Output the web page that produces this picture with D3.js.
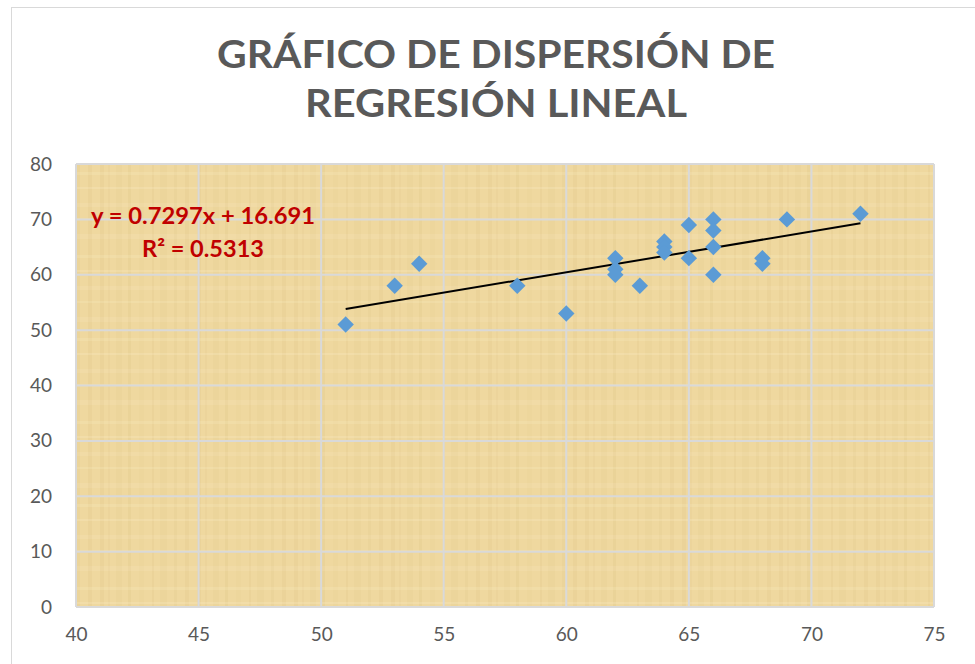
<!DOCTYPE html>
<html>
<head>
<meta charset="utf-8">
<script src="https://cdn.jsdelivr.net/npm/d3@7"></script>
<style>
  html, body { margin: 0; padding: 0; background: #fff; }
  svg { display: block; }
</style>
</head>
<body>
<div id="chart"></div>
<script>
// ---- data ----
const xValues = [51, 53, 54, 58, 60, 62, 62, 62, 63, 64, 64, 64, 65, 65, 66, 66, 66, 66, 68, 68, 69, 72];
const yValues = [51, 58, 62, 58, 53, 63, 61, 60, 58, 66, 65, 64, 69, 63, 70, 68, 65, 60, 63, 62, 70, 71];
const xTicks = [40, 45, 50, 55, 60, 65, 70, 75];
const yTicks = [0, 10, 20, 30, 40, 50, 60, 70, 80];
const titleLines = ['GRÁFICO DE DISPERSIÓN DE', 'REGRESIÓN LINEAL'];
const eqLines = ['y = 0.7297x + 16.691', 'R² = 0.5313'];

const width = 975, height = 664;
const margin = { top: 164, right: 41, bottom: 57, left: 76 };

const svg = d3.select('#chart').append('svg')
  .attr('width', width)
  .attr('height', height);

// outer chart frame
svg.append('rect')
  .attr('x', 11.5).attr('y', 7.5)
  .attr('width', width + 10).attr('height', height + 10)
  .attr('fill', '#fff')
  .attr('stroke', '#d9d9d9');

const x = d3.scaleLinear().domain([40, 75]).range([margin.left, width - margin.right]);
const y = d3.scaleLinear().domain([0, 80]).range([height - margin.bottom, margin.top]);

// papyrus-ish background (fixed band pattern, no randomness)
const defs = svg.append('defs');
const pat = defs.append('pattern')
  .attr('id', 'papyrus')
  .attr('patternUnits', 'userSpaceOnUse')
  .attr('width', 97).attr('height', 83);
pat.append('rect').attr('width', 97).attr('height', 83).attr('fill', '#efd89f');
const vBands = [[3, 4, 0.08], [11, 2, 0.06], [19, 6, 0.05], [31, 3, 0.09], [42, 5, 0.04], [55, 2, 0.08], [63, 7, 0.05], [77, 3, 0.07], [88, 4, 0.08]];
vBands.forEach(b => pat.append('rect')
  .attr('x', b[0]).attr('y', 0).attr('width', b[1]).attr('height', 83)
  .attr('fill', '#b89650').attr('opacity', b[2]));
const hBands = [[6, 3, 0.05], [21, 2, 0.06], [37, 4, 0.04], [52, 2, 0.05], [68, 5, 0.04]];
hBands.forEach(b => pat.append('rect')
  .attr('x', 0).attr('y', b[0]).attr('width', 97).attr('height', b[1])
  .attr('fill', '#fff4d6').attr('opacity', b[2] * 3));

svg.append('rect')
  .attr('x', x(40)).attr('y', y(80))
  .attr('width', x(75) - x(40)).attr('height', y(0) - y(80))
  .attr('fill', 'url(#papyrus)');

// gridlines
const grid = svg.append('g').attr('stroke', '#d9d9d9').attr('stroke-width', 2);
grid.selectAll('line.h').data(yTicks).join('line')
  .attr('class', 'h')
  .attr('x1', x(40)).attr('x2', x(75))
  .attr('y1', d => y(d)).attr('y2', d => y(d));
grid.selectAll('line.v').data(xTicks).join('line')
  .attr('class', 'v')
  .attr('x1', d => x(d)).attr('x2', d => x(d))
  .attr('y1', y(0)).attr('y2', y(80));

// axes (labels only)
const xAxis = svg.append('g')
  .attr('transform', `translate(0,${y(0)})`)
  .call(d3.axisBottom(x).tickValues(xTicks).tickSize(0).tickPadding(21));
const yAxis = svg.append('g')
  .attr('transform', `translate(${x(40)},0)`)
  .call(d3.axisLeft(y).tickValues(yTicks).tickSize(0).tickPadding(24));
[xAxis, yAxis].forEach(a => {
  a.select('.domain').remove();
  a.selectAll('text')
    .attr('fill', '#595959')
    .style('font-family', 'Lato, "Open Sans", sans-serif')
    .style('font-size', '19px');
});

// trend line from least squares on the data
const mx = d3.mean(xValues), my = d3.mean(yValues);
const slope = d3.sum(xValues, (v, i) => (v - mx) * (yValues[i] - my)) / d3.sum(xValues, v => (v - mx) ** 2);
const intercept = my - slope * mx;
const xr = d3.extent(xValues);
svg.append('line')
  .attr('x1', x(xr[0])).attr('y1', y(slope * xr[0] + intercept))
  .attr('x2', x(xr[1])).attr('y2', y(slope * xr[1] + intercept))
  .attr('stroke', '#000').attr('stroke-width', 2);

// points
const pts = xValues.map((v, i) => ({ x: v, y: yValues[i] }));
svg.append('g').selectAll('path').data(pts).join('path')
  .attr('d', d3.symbol().type(d3.symbolSquare).size(135))
  .attr('transform', d => `translate(${x(d.x)},${y(d.y)}) rotate(45)`)
  .attr('fill', '#5b9bd5');

// equation label
const eW = [224, 122];
svg.append('g').selectAll('text').data(eqLines).join('text')
  .attr('x', 203)
  .attr('y', (d, i) => 224 + i * 33)
  .attr('text-anchor', 'middle')
  .attr('fill', '#c00000')
  .attr('textLength', (d, i) => eW[i])
  .attr('lengthAdjust', 'spacingAndGlyphs')
  .style('font-family', 'Lato, "Open Sans", sans-serif')
  .style('font-weight', 'bold')
  .style('font-size', '23px')
  .text(d => d);

// title
const tW = [558, 382];
svg.append('g').selectAll('text').data(titleLines).join('text')
  .attr('x', 496)
  .attr('y', (d, i) => 68 + i * 49)
  .attr('text-anchor', 'middle')
  .attr('fill', '#595959')
  .attr('textLength', (d, i) => tW[i])
  .attr('lengthAdjust', 'spacingAndGlyphs')
  .style('font-family', 'Lato, "Open Sans", sans-serif')
  .style('font-weight', 'bold')
  .style('font-size', '38px')
  .text(d => d);
</script>
</body>
</html>
